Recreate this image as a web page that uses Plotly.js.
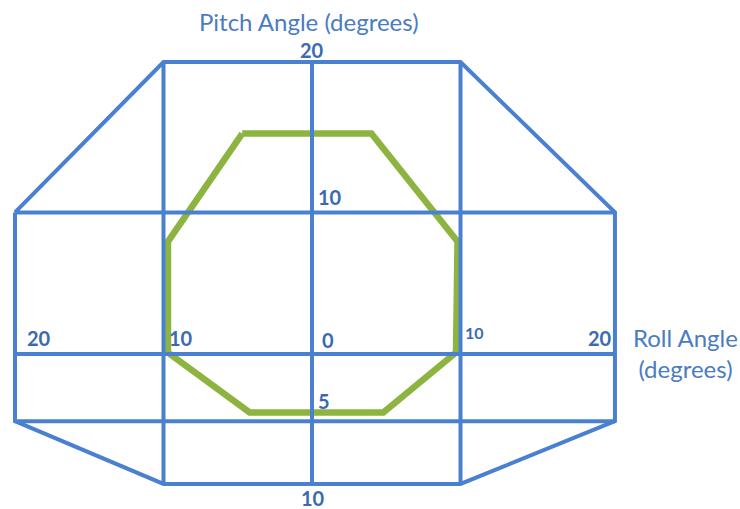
<!DOCTYPE html>
<html>
<head>
<meta charset="utf-8">
<script src="https://cdn.plot.ly/plotly-3.0.1.min.js"></script>
<style>html,body{margin:0;padding:0;background:#fff;}#chart{width:740px;height:509px;}</style>
</head>
<body>
<div id="chart"></div>
<script>
// Grid levels as drawn (degrees)
const rollLevels = [-20, -10, 0, 10, 20.4];
const pitchLevels = [20, 9.7, 0, -4.6, -8.9];

// Green envelope (roll, pitch in degrees)
const envRoll  = [-4.7, 4.0, 9.8, 9.7, 4.8, -4.2, -9.7, -9.7, -4.7];
const envPitch = [15.1, 15.1, 7.7, 0.1, -4.0, -4.0, 0.1, 7.7, 15.1];

// Labels
const pitchTickLabels = ["20", "10", "0", "5", "10"];
const rollTickLabels = ["20", "10", "0", "10", "20"];
const pitchTitle = "Pitch Angle (degrees)";
const rollTitle = "Roll Angle<br>(degrees)";

const BLUE = "#4A80D0";
const GREEN = "#8DB440";
const LABEL = "#3A6AB4";
const TITLE = "#4A7CC2";

const [rL, rl, r0, rr, rR] = rollLevels;
const [pT, p10, p0, pm5, pB] = pitchLevels;

// outline polygon
const outX = [rL, rl, rr, rR, rR, rr, rl, rL, rL];
const outY = [p10, pT, pT, p10, pm5, pB, pB, pm5, p10];

// interior grid lines (separated by nulls)
const gx = [], gy = [];
[p10, p0, pm5].forEach(p => { gx.push(rL, rR, null); gy.push(p, p, null); });
[rl, r0, rr].forEach(r => { gx.push(r, r, null); gy.push(pB, pT, null); });

const traces = [
  {x: envRoll, y: envPitch, mode: "lines", line: {color: GREEN, width: 6.5}, hoverinfo: "skip"},
  {x: gx, y: gy, mode: "lines", line: {color: BLUE, width: 4}, hoverinfo: "skip", connectgaps: false},
  {x: outX, y: outY, mode: "lines", line: {color: BLUE, width: 4}, hoverinfo: "skip"}
];

const bold = (s) => "<b>" + s + "</b>";
const lab = {family: "Lato, sans-serif", size: 20, color: LABEL};
const titleFont = {family: "Lato, sans-serif", size: 24, color: TITLE};
const annotations = [
  {x: r0, y: pT, text: bold(pitchTickLabels[0]), xshift: 0, yshift: 12},
  {x: r0, y: p10, text: bold(pitchTickLabels[1]), xshift: 18, yshift: 15},
  {x: r0, y: pm5, text: bold(pitchTickLabels[3]), xshift: 12, yshift: 20},
  {x: r0, y: pB, text: bold(pitchTickLabels[4]), xshift: 1, yshift: -14},
  {x: rL, y: p0, text: bold(rollTickLabels[0]), xshift: 24, yshift: 16},
  {x: rl, y: p0, text: bold(rollTickLabels[1]), xshift: 17, yshift: 16},
  {x: r0, y: p0, text: bold(rollTickLabels[2]), xshift: 16, yshift: 14},
  {x: rr, y: p0, text: bold(rollTickLabels[3]), xshift: 14, yshift: 22, font: {family: "Lato, sans-serif", size: 16, color: LABEL}},
  {x: rR, y: p0, text: bold(rollTickLabels[4]), xshift: -15, yshift: 16},
  {x: r0, y: pT, text: pitchTitle, xshift: -3, yshift: 41, font: titleFont},
  {x: rR, y: p0, text: rollTitle, xshift: 71, yshift: 1, align: "center", font: titleFont}
].map(a => Object.assign({xref: "x", yref: "y", showarrow: false, font: lab}, a));

const xpx = 14.85, ypx = 14.6;
const layout = {
  width: 740, height: 509,
  margin: {l: 0, r: 0, t: 0, b: 0},
  paper_bgcolor: "#ffffff", plot_bgcolor: "#ffffff",
  showlegend: false,
  xaxis: {visible: false, range: [-312 / xpx, (740 - 312) / xpx], fixedrange: true},
  yaxis: {visible: false, range: [-(509 - 354) / ypx, 354 / ypx], fixedrange: true},
  annotations: annotations
};

Plotly.newPlot("chart", traces, layout, {staticPlot: true, displayModeBar: false});
</script>
</body>
</html>
